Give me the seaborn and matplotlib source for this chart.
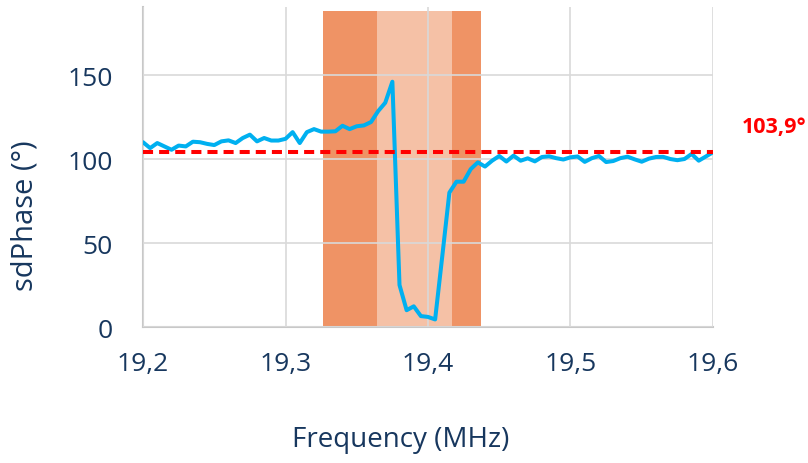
import matplotlib
matplotlib.use("Agg")
import matplotlib.pyplot as plt
import seaborn as sns
import pandas as pd

# Frequency sweep (MHz) and measured sdPhase (deg)
freq = [19.200 + 0.005 * i for i in range(81)]
sdphase = [
    110.0, 106.5, 109.5, 107.5, 105.5, 108.0, 107.5, 110.3, 110.0, 109.0,
    108.3, 110.5, 111.1, 109.5, 112.5, 114.5, 110.5, 112.5, 111.0, 111.0,
    112.0, 116.0, 109.5, 116.0, 117.8, 116.3, 116.3, 116.5, 119.8, 117.8,
    119.5, 120.0, 122.0, 128.5, 133.5, 146.0, 25.0, 10.0, 12.3, 6.5,
    6.0, 4.5, 42.0, 80.0, 86.5, 86.5, 94.0, 98.0, 95.5, 99.0,
    101.8, 98.5, 102.0, 99.0, 100.4, 98.6, 101.2, 101.6, 100.5, 99.7,
    101.0, 101.5, 98.3, 100.5, 101.8, 98.2, 98.8, 100.5, 101.4, 99.8,
    98.4, 100.2, 101.2, 101.3, 100.0, 99.3, 100.0, 103.0, 99.0, 101.5,
    104.0,
]
threshold = 103.9
threshold_label = "103,9°"

# shaded bands: (start, end, colour)
band_start = [19.3265, 19.3640, 19.4168]
band_end = [19.3640, 19.4168, 19.4370]
band_color = ["#EF9365", "#F5C1A6", "#EF9365"]
band_top = 188

xticks = [19.2, 19.3, 19.4, 19.5, 19.6]
xtick_labels = ["19,2", "19,3", "19,4", "19,5", "19,6"]
yticks = [0, 50, 100, 150]

df = pd.DataFrame({"Frequency": freq, "sdPhase": sdphase})

sns.set_theme(style="white")
plt.rcParams["font.family"] = ["Open Sans", "DejaVu Sans"]
navy = "#17375E"

fig = plt.figure(figsize=(8.08, 4.64), dpi=100)
ax = fig.add_axes([0.177, 0.2931, 0.7054, 0.6897])

for x0, x1, c in zip(band_start, band_end, band_color):
    ax.fill_between([x0, x1], 0, band_top, color=c, lw=0, zorder=0)

sns.lineplot(data=df, x="Frequency", y="sdPhase", ax=ax, color="#00B0F0",
             lw=2.9, zorder=4, solid_joinstyle="round", solid_capstyle="round")
ax.axhline(threshold, color="#FF0000", lw=2.9, dashes=(2.5, 1.5), zorder=5)
ax.text(19.620, 116, threshold_label, color="#FF0000", fontsize=15.5,
        fontweight="bold", ha="left", va="baseline", clip_on=False)

ax.set_xlim(19.2, 19.6)
ax.set_ylim(0, 190.5)
ax.set_xticks(xticks)
ax.set_xticklabels(xtick_labels)
ax.set_yticks(yticks)
ax.grid(True, color="#D9D9D9", lw=1.2, zorder=1)
ax.set_axisbelow(False)
for line in ax.get_xgridlines() + ax.get_ygridlines():
    line.set_zorder(1)

for s in ["top", "right"]:
    ax.spines[s].set_visible(False)
for s in ["left", "bottom"]:
    ax.spines[s].set_color("#C8C8C8")
    ax.spines[s].set_linewidth(1.5)
    ax.spines[s].set_zorder(2)

ax.tick_params(axis="x", length=0, pad=17, labelsize=19, labelcolor=navy)
ax.tick_params(axis="y", length=0, pad=22, labelsize=19, labelcolor=navy)

ax.set_xlabel("Frequency (MHz)", fontsize=20, color=navy)
ax.set_ylabel("sdPhase (°)", fontsize=21, color=navy)
ax.xaxis.set_label_coords(0.4526, -0.306)
ax.yaxis.set_label_coords(-0.181, 0.35)

fig.savefig("out.png", dpi=100)
